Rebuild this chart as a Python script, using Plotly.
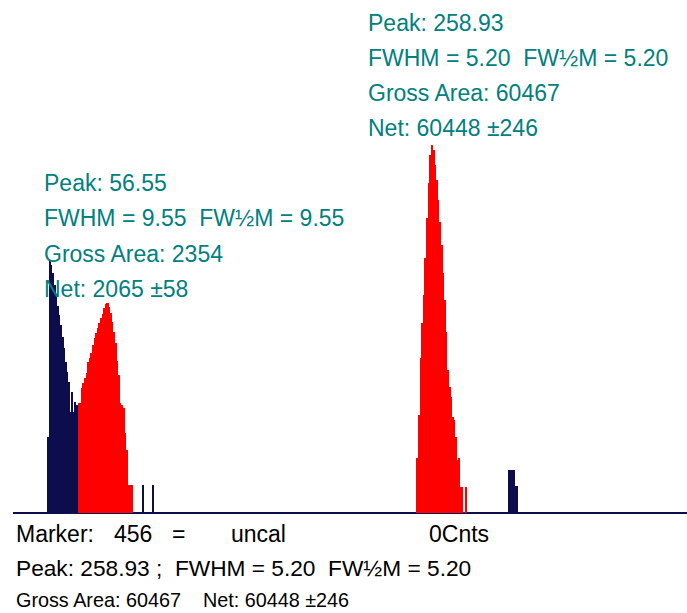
import plotly.graph_objects as go

# ---------------- data (channel numbers and counts) ----------------
left_navy_ch = list(range(20, 39))
left_navy_counts = [2280, 7590, 7440, 7200, 6840, 6540, 6210, 5940, 5640, 5280,
                    4950, 4530, 4230, 3930, 3030, 3630, 3030, 3330, 3240]

left_red_ch = list(range(39, 73))
left_red_counts = [3300, 3300, 3750, 3900, 4050, 4200, 4530, 4650, 4800, 5040,
                   5250, 5400, 5550, 5700, 5850, 5970, 6150, 6270, 6300, 6180,
                   6000, 5730, 5430, 5100, 4560, 4140, 3300, 3240, 3150, 2400,
                   1890, 840, 840, 840]

tick_ch = [79, 85]
tick_counts = [840, 840]

right_red_ch = list(range(250, 281))
right_red_counts = [1650, 2940, 4650, 5700, 6540, 7650, 8850, 9900, 10740, 11040,
                    10890, 10440, 9990, 9390, 8730, 8040, 7200, 6390, 5430, 4290,
                    3780, 3480, 2880, 2790, 2280, 1590, 1650, 780, 780, 0, 780]

right_navy_ch = list(range(307, 313))
right_navy_counts = [1290, 1290, 1290, 1290, 810, 810]

left_peak_text = ["Peak: 56.55", "FWHM = 9.55\u00a0\u00a0FW\u00bdM = 9.55",
                  "Gross Area: 2354", "Net: 2065 \u00b158"]
right_peak_text = ["Peak: 258.93", "FWHM = 5.20\u00a0\u00a0FW\u00bdM = 5.20",
                   "Gross Area: 60467", "Net: 60448 \u00b1246"]
marker_parts = ["Marker:", "456", "=", "uncal", "0Cnts"]
status_line2 = "Peak: 258.93 ;\u00a0\u00a0FWHM = 5.20\u00a0\u00a0FW\u00bdM = 5.20"
status_line3 = "Gross Area: 60467\u00a0\u00a0\u00a0\u00a0Net: 60448 \u00b1246"

# ---------------- styling ----------------
W, H = 687, 613
NAVY = "#0d0d4d"
RED = "#ff0000"
TEAL = "#008080"
FONT = "Liberation Sans, Arial, sans-serif"

def px(x):
    return x / W

def py(y):
    return 1 - y / H

fig = go.Figure()
for ch, cnt, col, wd in [
    (left_navy_ch, left_navy_counts, NAVY, 1.0),
    (left_red_ch, left_red_counts, RED, 1.0),
    (tick_ch, tick_counts, NAVY, 0.6),
    (right_red_ch, right_red_counts, RED, 1.0),
    (right_navy_ch, right_navy_counts, NAVY, 1.0),
]:
    fig.add_trace(go.Bar(x=ch, y=cnt, width=wd, marker=dict(color=col, line=dict(width=0)),
                         hoverinfo="x+y", showlegend=False))

# baseline
fig.add_shape(type="line", xref="x", yref="y", x0=-2.0, x1=418, y0=0, y1=0,
              line=dict(color=NAVY, width=2), layer="below")

ann = []
for i, t in enumerate(right_peak_text):
    ann.append(dict(text=t, x=px(366), y=py([23, 57.5, 93, 127.5][i]), font=dict(color=TEAL, size=23)))
for i, t in enumerate(left_peak_text):
    ann.append(dict(text=t, x=px(42), y=py([183, 218, 254, 289][i]), font=dict(color=TEAL, size=23)))
for t, x in zip(marker_parts, [14, 112, 170, 229, 427]):
    ann.append(dict(text=t, x=px(x), y=py(534), font=dict(color="black", size=23)))
ann.append(dict(text=status_line2, x=px(14), y=py(567.5), font=dict(color="black", size=22.7)))
ann.append(dict(text=status_line3, x=px(14), y=py(599.5), font=dict(color="black", size=19.8)))
for a in ann:
    a.update(xref="paper", yref="paper", xanchor="left", yanchor="middle", showarrow=False)
    a["font"]["family"] = FONT

fig.update_layout(
    width=W, height=H,
    margin=dict(l=0, r=0, t=0, b=0),
    paper_bgcolor="white", plot_bgcolor="white",
    bargap=0, barmode="overlay",
    xaxis=dict(range=[-10.09, 417.68], visible=False, fixedrange=True),
    yaxis=dict(range=[-3000, 15390], visible=False, fixedrange=True),
    annotations=ann,
)

fig.write_html("out.html", config={"displayModeBar": False},
               post_script="document.body.style.margin='0px';"
                           "document.documentElement.style.overflow='hidden';")
